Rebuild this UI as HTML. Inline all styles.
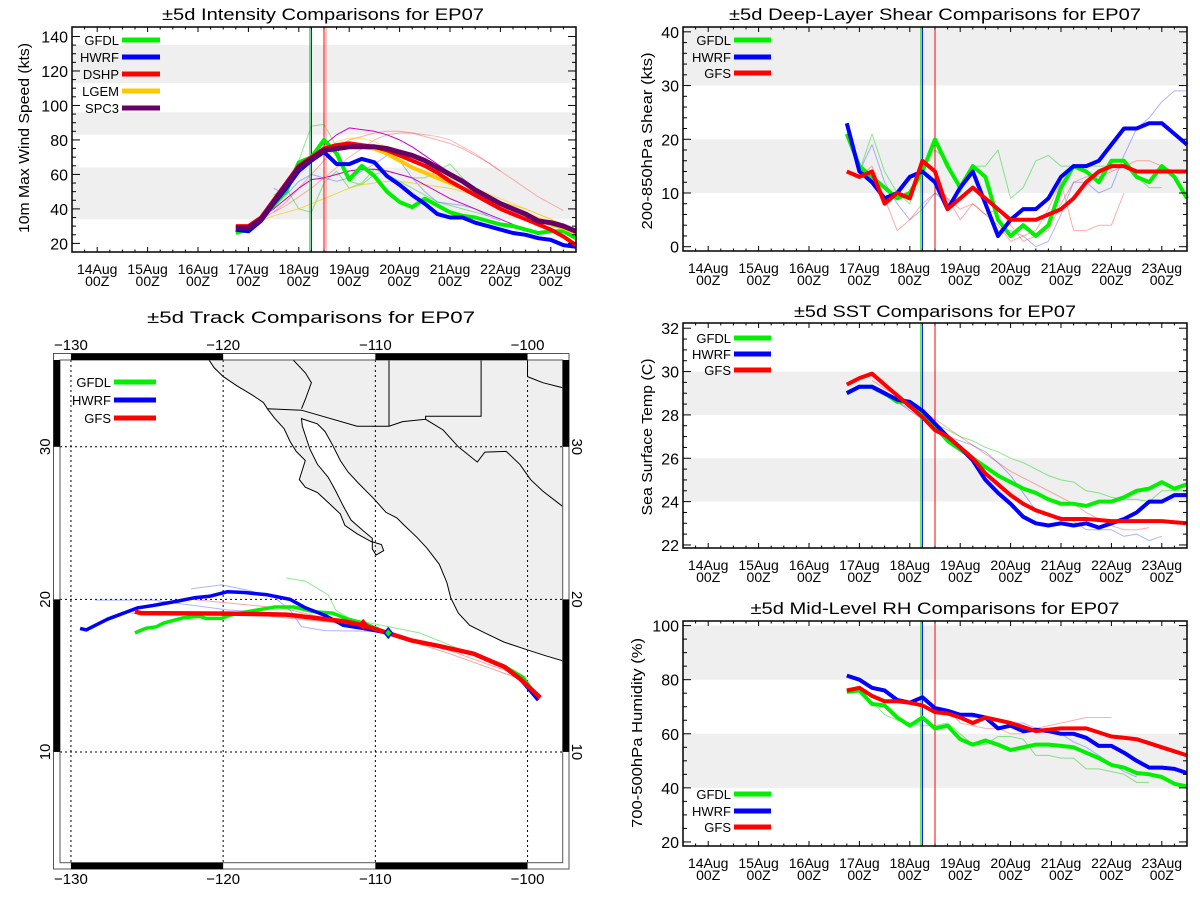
<!DOCTYPE html>
<html><head><meta charset="utf-8"><title>EP07 comparisons</title>
<style>
html,body{margin:0;padding:0;background:#fff;}
svg{display:block;font-family:"Liberation Sans",Arial,sans-serif;}
</style></head>
<body>
<svg id="chart" width="1200" height="900" viewBox="0 0 1200 900" xmlns="http://www.w3.org/2000/svg">
<rect x="0" y="0" width="1200" height="900" fill="#fff"/>
</svg>
<script>
// ---------- shared data ----------
const dayLabels = ['14Aug','15Aug','16Aug','17Aug','18Aug','19Aug','20Aug','21Aug','22Aug','23Aug'];
const hourLabel = '00Z';
const seriesStart = 2.75; // days after 14Aug 00Z, 6-hourly steps

// intensity (kts)
const intGFDL = [26,28,34,42,50,67,70,80,72,57,65,59,50,44,41,46,42,38,36,35,33,31,30,28,26,27,27,23];
const intHWRF = [28,27,33,43,52,62,68,73,66,66,69,67,59,54,48,43,37,35,35,32,30,28,26,25,23,22,19,18];
const intDSHP = [30,30,35,45,55,65,70,75,77,78,77,76,74,71,68,65,61,56,52,48,44,40,37,34,31,28,24,19];
const intLGEM = [29,29,34,44,54,64,70,75,76,77,76,75,72,68,64,61,58,55,52,49,46,43,40,37,34,31,29,26];
const intSPC3 = [29,29,34,44,54,64,69,74,75,76,76,76,75,73,71,68,64,60,56,51,47,43,40,37,33,32,30,27];
const intThinDSHP1 = [38,44,52,60,68,76,80,82,84,85,85,84,82,80,78,75,71,67,62];
const intThinDSHP2 = [34,38,42,47,52,58,64,70,75,80,83,84,84,83,82,80,76,72,67,62,57,52,47,43,39];
const intThinSPC3a = [77,83,87,86,85,83,80,76,71,66,61,56,51,47,43,40,37,34,31,28];
const intThinSPC3b = [35,40,46,52,57,58,60,62,63,63,62,60,58,54,50,46,43,40,37,34,31,28,25];
const intThinLGEMa = [33,36,38,40,43,46,49,52,54,55,56,56,55,54,53,52,50,48,46,44,42,40,37,34,31];
const intThinLGEMb = [74,79,81,81,79,76,72,68,64,61,58,55,52,49,46,43,40,37,34,31];
const intThinGFDLa = [45,55,68,88,89,76,56,54,60,62,60,58,58,62,66,58,50,45,42];
const intThinGFDLb = [48,52,40,38,55,62,52,55,63,60,56,52,48,44,42,40,38,36];
const intThinHWRFa = [52,48,56,60,58,56,58,62,66,71,68,58,50,44,43,42,40,36,33];
const intInitTimes = [4.22,4.25,4.5,4.54];

// shear (kts)
const shGFDL = [21,15,13,11,9,10,14,20,15,11,15,13,5,2,4,2,4,11,15,14,12,16,16,13,12,15,13,9];
const shHWRF = [23,14,12,9,10,13,14,12,7,11,14,8,2,5,7,7,9,13,15,15,16,19,22,22,23,23,21,19];
const shGFS  = [14,13,14,8,10,9,16,14,7,9,11,9,7,5,5,5,6,7,9,12,14,15,15,14,14,14,14,14];
const shThinG = [21,14,21,14,10,8,15,18,16,10,15,15,18,9,11,16,17,15,15,15,15,15,15,13,11,11];
const shThinB = [22,14,19,12,8,5,7,10,8,9,11,8,3,3,2,0,1,6,12,12,10,11,17,22,24,27,29,29];
const shThinR = [14,13,15,9,3,5,8,10,9,7,8,6,4,1,2,3,7,12,3,3,4,4,10];
const shThinR2 = [12,9,5,8,6,7,4,1,2,3,8,12,13,13,14,15,16,16,15,14];

// SST (C)
const sstGFDL = [29.0,29.3,29.3,29.0,28.6,28.6,28.1,27.5,26.8,26.4,26.0,25.6,25.2,24.9,24.6,24.4,24.1,23.9,23.9,23.8,24.0,24.0,24.2,24.5,24.6,24.9,24.6,24.8];
const sstHWRF = [29.0,29.3,29.3,29.0,28.7,28.6,28.2,27.6,27.0,26.5,25.9,25.0,24.4,23.9,23.3,23.0,22.9,23.0,22.9,23.0,22.8,23.0,23.2,23.5,24.0,24.0,24.3,24.3];
const sstGFS  = [29.4,29.7,29.9,29.4,28.9,28.4,27.9,27.3,27.0,26.5,26.0,25.3,24.8,24.3,23.9,23.6,23.4,23.2,23.2,23.2,23.15,23.1,23.1,23.1,23.1,23.1,23.05,23.0];
const sstThinG = [29.2,28.9,28.6,28.3,28.0,27.6,27.3,27.0,26.8,26.5,26.3,26.0,25.8,25.5,25.2,25.0,24.9,24.5,24.4,24.2,24.1,24.1,24.0,24.5,24.5,24.5];
const sstThinR = [29.6,29.2,28.9,28.5,28.2,27.8,27.4,27.0,26.6,26.2,25.8,25.4,25.1,24.8,24.5,24.2,23.9,23.5,23.2,22.9,22.7,22.7,22.8];
const sstThinB = [29.2,28.9,28.6,28.2,27.8,27.3,27.0,26.8,26.6,26.3,25.8,25.2,24.4,23.6,23.4,23.3,23.1,22.7,22.7,22.7,22.4,22.5,22.2,22.4];

// RH (%)
const rhGFDL = [75.5,76,71,70.5,66,63,66,62,63,58,56,57.5,56,54,55,56,56,55.5,55,53,51,48.5,47.5,45.5,45,44,41.5,40.5];
const rhHWRF = [81.5,80,77,76,72.5,71.5,73.5,69.5,68.5,67,67,66,62,63,61,61.5,61,60,60,58.5,55.5,55.5,53,50,47.5,47.5,47,45.5];
const rhGFS  = [76,77,74,72,72,71.5,70.5,68,67.5,66,64,66,65,64,62.5,61,61.5,62,62,62,60.5,59,58.5,58,56.5,55,53.5,52];
const rhThinG = [72,67,65,64,63,63,64,60,56,56,59,59,58,52,52,51,51,47,47,46,45,42,42];
const rhThinR = [73,72,70,69,69,64,63,62,62,60,60,62,63,64,65,66,66,66];
const rhThinB = [73,70,68,67,66,66,65,64,64,62,61,60,57,55,52,49,46,44];
const initTimes = [4.22,4.25,4.5];

// tracks (lon, lat)
const trkGFSLon  = [-125.8,-125.4,-119.6,-115.85,-112.1,-110.8,-109.2,-107.6,-105.8,-103.55,-101.5,-100.5,-99.16];
const trkGFSLat  = [19.2,19.1,19.07,19.0,18.57,18.3,17.8,17.3,16.94,16.44,15.56,14.8,13.56];
const trkHWRFLon = [-129.4,-129.0,-127.6,-125.6,-124.6,-122.9,-121.9,-120.9,-119.7,-118.6,-117.1,-115.6,-114.6,-113.3,-112.1,-110.8,-109.2,-107.6,-105.8,-103.55,-101.5,-100.5,-99.3];
const trkHWRFLat = [18.1,18.0,18.7,19.45,19.6,19.9,20.1,20.2,20.5,20.45,20.3,20.0,19.45,18.95,18.3,18.1,17.8,17.3,16.94,16.44,15.6,14.8,13.4];
const trkGFDLLon = [-125.8,-125.1,-124.4,-123.9,-122.6,-121.6,-121.1,-120.1,-119.6,-118.4,-116.6,-115.35,-114.1,-112.8,-111.8,-110.8,-109.2,-107.6,-105.8,-103.55,-101.5,-100.3,-99.3];
const trkGFDLLat = [17.8,18.1,18.2,18.45,18.8,18.9,18.75,18.75,18.95,19.2,19.5,19.5,19.2,19.1,18.7,18.45,17.8,17.3,16.94,16.44,15.6,14.9,13.5];
const trkThinR1Lon = [-122.1,-116,-110,-105,-100.8];
const trkThinR1Lat = [20.0,19.4,18.0,16.4,14.9];
const trkThinR2Lon = [-126,-118,-112,-105,-100.5];
const trkThinR2Lat = [19.1,19.0,18.4,16.6,15.0];
const trkThinB1Lon = [-128.4,-124.6,-119.6,-115.1,-109.6];
const trkThinB1Lat = [19.95,19.95,19.3,19.05,17.8];
const trkThinB2Lon = [-122.1,-120.1,-118.35,-116.6,-115.6,-114.85,-113.3,-109.6];
const trkThinB2Lat = [20.7,20.95,20.6,20.1,19.3,18.2,17.95,17.9];
const trkThinGLon = [-115.85,-114.6,-113.1,-112.6,-111.6,-109.6,-107.1,-104.6,-101.5];
const trkThinGLat = [21.4,21.2,20.3,19.3,18.7,18.3,17.8,16.8,15.6];
const lonTicks = [-130,-120,-110,-100];
const latTicks = [10,20,30];

// geography (lon, lat)
const coastLon = [-121.0,-120.6,-120.0,-119.1,-118.1,-117.35,-117.1,-116.6,-116.0,-115.6,-115.2,-114.6,-115.0,-114.6,-113.8,-113.1,-112.3,-112.0,-111.2,-110.3,-109.6,-109.45,-109.95,-110.2,-110.2,-110.8,-111.6,-112.1,-112.6,-113.1,-113.8,-114.3,-114.8,-114.85,-113.8,-113.3,-112.8,-112.3,-111.8,-111.1,-110.1,-109.3,-108.6,-108.1,-107.3,-106.6,-105.8,-105.3,-105.05,-104.55,-103.8,-102.8,-101.55,-100.05,-98.8,-97.6,-97.6];
const coastLat = [35.8,35.2,34.6,34.0,33.4,32.9,32.5,31.85,31.2,30.35,29.7,29.1,27.85,27.35,27.0,26.35,25.6,24.85,24.3,23.8,23.6,23.2,22.9,23.3,24.0,24.5,25.2,26.1,27.1,28.0,28.85,29.85,31.35,31.85,31.5,31.0,30.1,29.1,28.35,27.6,26.6,25.7,25.35,24.85,24.1,23.35,22.3,21.1,20.1,19.1,18.3,17.8,17.2,16.7,16.3,15.95,35.8];
const borderLon = [-117.1,-114.85,-111.2,-109.1,-108.2,-106.7,-105.55,-104.55,-103.3,-102.8,-101.4,-100.5,-99.8,-99.0,-97.7];
const borderLat = [32.5,32.4,31.35,31.35,31.65,31.8,31.1,30.0,29.0,29.65,29.7,28.85,27.85,27.1,26.1];
const azNmLon = [-109.1,-109.1]; const azNmLat = [35.8,31.35];
const nmTxLon = [-103.05,-103.05,-106.7,-106.7]; const nmTxLat = [35.8,32.0,32.0,31.8];
const caAzLon = [-115.5,-114.6,-114.2,-114.6,-114.85]; const caAzLat = [35.8,34.85,34.2,33.1,32.5];
const okTxLon = [-100.0,-100.0,-99.0,-97.6]; const okTxLat = [35.8,34.6,34.2,33.85];

// ---------- helpers ----------
const NS = 'http://www.w3.org/2000/svg';
const svg = document.getElementById('chart');
function el(tag, attrs, name, parent) {
  const e = document.createElementNS(NS, tag);
  for (const k in attrs) e.setAttribute(k, attrs[k]);
  
  
  (parent || svg).appendChild(e);
  return e;
}
function txt(x, y, s, attrs, name, parent) {
  const t = el('text', Object.assign({x: x, y: y, fill: '#000'}, attrs), name, parent);
  t.textContent = s;
  return t;
}
const X0 = -0.5, X1 = 9.5;

function panel(c) {
  const g = el('g', {}, c.name);
  const sx = d => c.L + (d - X0) / (X1 - X0) * (c.R - c.L);
  const sy = v => c.B - (v - c.ymin) / (c.ymax - c.ymin) * (c.B - c.T);
  c.bands.forEach(b => {
    el('rect', {x: c.L, y: sy(b[1]), width: c.R - c.L, height: sy(b[0]) - sy(b[1]), fill: '#efefef'}, 'shaded-band', g);
  });
  txt((c.L + c.R) / 2 + c.titleDx, c.titleY, c.title, {'font-size': 17, 'text-anchor': 'middle', textLength: c.titleLen, lengthAdjust: 'spacingAndGlyphs'}, 'panel-title', g);
  txt(0, 0, c.ylabel, {'font-size': 15, 'text-anchor': 'middle', transform: 'translate(' + c.ylabX + ',' + c.ylabY + ') rotate(-90)', textLength: c.ylabLen, lengthAdjust: 'spacingAndGlyphs'}, 'y-axis-title', g);
  return {g: g, sx: sx, sy: sy, c: c};
}
function axes(P) {
  const c = P.c, g = P.g;
  el('rect', {x: c.L, y: c.T, width: c.R - c.L, height: c.B - c.T, fill: 'none', stroke: '#000', 'stroke-width': 1.5}, 'plot-frame', g);
  for (let d = -0.5; d <= 9.5001; d += 0.25) {
    const major = Math.abs(d - Math.round(d)) < 1e-6;
    const len = major ? 5 : 2.5;
    const x = P.sx(d);
    el('line', {x1: x, x2: x, y1: c.B, y2: c.B - len, stroke: '#000', 'stroke-width': 1}, 'x-tick', g);
    el('line', {x1: x, x2: x, y1: c.T, y2: c.T + len, stroke: '#000', 'stroke-width': 1}, 'x-tick-top', g);
  }
  dayLabels.forEach((lab, i) => {
    txt(P.sx(i), c.B + 22, lab, {'font-size': 14, 'text-anchor': 'middle'}, 'x-tick-label', g);
    txt(P.sx(i), c.B + 34, hourLabel, {'font-size': 14, 'text-anchor': 'middle'}, 'x-tick-label-hour', g);
  });
  for (let v = c.y0; v <= c.y1 + 1e-6; v += c.minor) {
    const major = Math.abs((v - c.y0) / c.major - Math.round((v - c.y0) / c.major)) < 1e-6;
    const len = major ? 8 : 4;
    const y = P.sy(v);
    el('line', {x1: c.L, x2: c.L + len, y1: y, y2: y, stroke: '#000', 'stroke-width': 1}, 'y-tick', g);
    el('line', {x1: c.R, x2: c.R - len, y1: y, y2: y, stroke: '#000', 'stroke-width': 1}, 'y-tick-right', g);
    if (major) txt(c.L - 4, y + 6, String(v), {'font-size': 16, 'text-anchor': 'end'}, 'y-tick-label', g);
  }
}
function series(P, start, vals, color, w, name, op) {
  const pts = vals.map((v, i) => P.sx(start + i * 0.25).toFixed(1) + ',' + P.sy(v).toFixed(1)).join(' ');
  el('polyline', {points: pts, fill: 'none', stroke: color, 'stroke-width': w, 'stroke-opacity': op || 1, 'stroke-linejoin': 'round'}, name, P.g);
}
function vlines(P, times, colors) {
  times.forEach((t, i) => {
    const x = P.sx(t);
    el('line', {x1: x, x2: x, y1: P.c.T, y2: P.c.B, stroke: colors[i], 'stroke-width': 1}, 'init-time-line', P.g);
  });
}
function legend(g, x0, lineX0, lineX1, ys, names, colors, anchorRight) {
  names.forEach((n, i) => {
    txt(lineX0 - 3, ys[i] + 5, n, {'font-size': 13, 'text-anchor': 'end'}, 'legend-label-' + n.toLowerCase(), g);
    el('line', {x1: lineX0, x2: lineX1, y1: ys[i], y2: ys[i], stroke: colors[i], 'stroke-width': 5}, 'legend-swatch-' + n.toLowerCase(), g);
  });
}
const GREEN = '#00f000', BLUE = '#0000ff', RED = '#ff0000', ORANGE = '#ffc800', PURPLE = '#660066';
const LG = '#00d000', LB = '#3344ff', LR = '#ff3030';

// ---------- intensity ----------
const PI = panel({name: 'intensity-panel', L: 72, R: 576, T: 27, B: 252, ymin: 15, ymax: 145.5,
  bands: [[34, 64], [83, 96], [113, 135]], title: '\u00b15d Intensity Comparisons for EP07', titleY: 20, titleDx: -1, titleLen: 322,
  ylabel: '10m Max Wind Speed (kts)', ylabX: 29, ylabY: 138, ylabLen: 190});
series(PI, 3.5, intThinGFDLa, LG, 1, 'gfdl-thin-run', 0.45);
series(PI, 3.5, intThinGFDLb, LG, 1, 'gfdl-thin-run', 0.45);
series(PI, 3.5, intThinHWRFa, LB, 1, 'hwrf-thin-run', 0.4);
series(PI, 3.5, intThinDSHP1, LR, 1, 'dshp-thin-run', 0.4);
series(PI, 3.25, intThinDSHP2, LR, 1, 'dshp-thin-run', 0.35);
series(PI, 3.25, intThinLGEMa, ORANGE, 1, 'lgem-thin-run', 0.7);
series(PI, 4.5, intThinLGEMb, ORANGE, 1, 'lgem-thin-run', 0.6);
series(PI, 4.5, intThinSPC3a, '#cc00cc', 1, 'spc3-thin-run', 1);
series(PI, 3.25, intThinSPC3b, '#cc00cc', 1, 'spc3-thin-run', 1);
vlines(PI, intInitTimes, ['#00e000', '#0000ff', '#ff0000', '#ff9090']);
series(PI, seriesStart, intGFDL, GREEN, 4, 'gfdl-line');
series(PI, seriesStart, intHWRF, BLUE, 4, 'hwrf-line');
series(PI, seriesStart, intLGEM, ORANGE, 4, 'lgem-line');
series(PI, seriesStart, intDSHP, RED, 4, 'dshp-line');
series(PI, seriesStart, intSPC3, PURPLE, 5, 'spc3-line');
PI.c.y0 = 20; PI.c.y1 = 140; PI.c.major = 20; PI.c.minor = 5;
axes(PI);
legend(PI.g, 84, 122, 160, [40, 57, 74, 91, 108], ['GFDL', 'HWRF', 'DSHP', 'LGEM', 'SPC3'], [GREEN, BLUE, RED, ORANGE, PURPLE], [false, false, false, false, false]);

// ---------- shear ----------
const PS = panel({name: 'shear-panel', L: 683, R: 1187, T: 27, B: 251, ymin: -0.8, ymax: 40.9,
  bands: [[10, 20], [30, 40.9]], title: '\u00b15d Deep-Layer Shear Comparisons for EP07', titleY: 20, titleDx: 0, titleLen: 412,
  ylabel: '200-850hPa Shear (kts)', ylabX: 652, ylabY: 141, ylabLen: 177});
series(PS, seriesStart, shThinG, LG, 1, 'gfdl-thin-run', 0.45);
series(PS, seriesStart, shThinB, LB, 1, 'hwrf-thin-run', 0.4);
series(PS, seriesStart, shThinR, LR, 1, 'gfs-thin-run', 0.4);
series(PS, 4.5, shThinR2, LR, 1, 'gfs-thin-run', 0.4);
vlines(PS, initTimes, ['#00e000', '#0000ff', '#ff0000']);
series(PS, seriesStart, shGFDL, GREEN, 4, 'gfdl-line');
series(PS, seriesStart, shHWRF, BLUE, 4, 'hwrf-line');
series(PS, seriesStart, shGFS, RED, 4, 'gfs-line');
PS.c.y0 = 0; PS.c.y1 = 40; PS.c.major = 10; PS.c.minor = 2;
axes(PS);
legend(PS.g, 696, 734, 771, [40, 57, 73], ['GFDL', 'HWRF', 'GFS'], [GREEN, BLUE, RED], [false, false, true]);

// ---------- SST ----------
const PT = panel({name: 'sst-panel', L: 683, R: 1187, T: 323, B: 548, ymin: 21.86, ymax: 32.24,
  bands: [[24, 26], [28, 30]], title: '\u00b15d SST Comparisons for EP07', titleY: 317, titleDx: 0, titleLen: 282,
  ylabel: 'Sea Surface Temp (C)', ylabX: 652, ylabY: 437, ylabLen: 157});
series(PT, 3.25, sstThinG, LG, 1, 'gfdl-thin-run', 0.45);
series(PT, 3.25, sstThinR, LR, 1, 'gfs-thin-run', 0.4);
series(PT, 3.25, sstThinB, LB, 1, 'hwrf-thin-run', 0.4);
vlines(PT, initTimes, ['#00e000', '#0000ff', '#ff0000']);
series(PT, seriesStart, sstGFDL, GREEN, 4, 'gfdl-line');
series(PT, seriesStart, sstHWRF, BLUE, 4, 'hwrf-line');
series(PT, seriesStart, sstGFS, RED, 4, 'gfs-line');
PT.c.y0 = 22; PT.c.y1 = 32; PT.c.major = 2; PT.c.minor = 0.5;
axes(PT);
legend(PT.g, 696, 734, 771, [338, 354, 370], ['GFDL', 'HWRF', 'GFS'], [GREEN, BLUE, RED], [false, false, true]);

// ---------- RH ----------
const PR = panel({name: 'rh-panel', L: 683, R: 1187, T: 621, B: 846, ymin: 18.5, ymax: 101.7,
  bands: [[40, 60], [80, 100]], title: '\u00b15d Mid-Level RH Comparisons for EP07', titleY: 614, titleDx: 0, titleLen: 369,
  ylabel: '700-500hPa Humidity (%)', ylabX: 642, ylabY: 733, ylabLen: 190});
series(PR, 3.25, rhThinG, LG, 1, 'gfdl-thin-run', 0.45);
series(PR, 3.75, rhThinR, LR, 1, 'gfs-thin-run', 0.4);
series(PR, 4.25, rhThinB, LB, 1, 'hwrf-thin-run', 0.4);
vlines(PR, initTimes, ['#00e000', '#0000ff', '#ff0000']);
series(PR, seriesStart, rhGFDL, GREEN, 4, 'gfdl-line');
series(PR, seriesStart, rhHWRF, BLUE, 4, 'hwrf-line');
series(PR, seriesStart, rhGFS, RED, 4, 'gfs-line');
PR.c.y0 = 20; PR.c.y1 = 100; PR.c.major = 20; PR.c.minor = 5;
axes(PR);
legend(PR.g, 696, 734, 771, [794, 811, 827], ['GFDL', 'HWRF', 'GFS'], [GREEN, BLUE, RED], [false, false, true]);

// ---------- track map ----------
const M = {L: 60, R: 562.7, T: 360, B: 862.7, lon0: -130.72, lon1: -97.69, lat0: 2.74, lat1: 35.69};
const mx = lon => M.L + (lon - M.lon0) / (M.lon1 - M.lon0) * (M.R - M.L);
const my = lat => M.B - (lat - M.lat0) / (M.lat1 - M.lat0) * (M.B - M.T);
const gm = el('g', {}, 'track-map');
el('clipPath', {id: 'mapclip'}, 'map-clip', gm);
el('rect', {x: M.L, y: M.T, width: M.R - M.L, height: M.B - M.T}, 'map-clip-rect', document.getElementById('mapclip'));
const gInner = el('g', {'clip-path': 'url(#mapclip)'}, 'map-content', gm);
function pathLL(lons, lats, attrs, name, parent, close) {
  let d = lons.map((lo, i) => (i ? 'L' : 'M') + mx(lo).toFixed(1) + ',' + my(lats[i]).toFixed(1)).join(' ');
  if (close) d += ' Z';
  return el('path', Object.assign({d: d, fill: 'none'}, attrs), name, parent);
}
pathLL(coastLon, coastLat, {fill: '#efefef', stroke: '#000', 'stroke-width': 1}, 'land-mexico', gInner, true);
pathLL(borderLon, borderLat, {stroke: '#000', 'stroke-width': 1}, 'us-mexico-border', gInner);
pathLL(azNmLon, azNmLat, {stroke: '#000', 'stroke-width': 1}, 'state-border', gInner);
pathLL(nmTxLon, nmTxLat, {stroke: '#000', 'stroke-width': 1}, 'state-border', gInner);
pathLL(caAzLon, caAzLat, {stroke: '#000', 'stroke-width': 1}, 'state-border', gInner);
pathLL(okTxLon, okTxLat, {stroke: '#000', 'stroke-width': 1}, 'state-border', gInner);
lonTicks.forEach(lo => {
  el('line', {x1: mx(lo), x2: mx(lo), y1: M.T, y2: M.B, stroke: '#000', 'stroke-width': 1, 'stroke-dasharray': '2,3'}, 'lon-gridline', gInner);
});
latTicks.forEach(la => {
  el('line', {x1: M.L, x2: M.R, y1: my(la), y2: my(la), stroke: '#000', 'stroke-width': 1, 'stroke-dasharray': '2,3'}, 'lat-gridline', gInner);
});
pathLL(trkThinR1Lon, trkThinR1Lat, {stroke: LR, 'stroke-width': 1, 'stroke-opacity': 0.45}, 'gfs-thin-track', gInner);
pathLL(trkThinR2Lon, trkThinR2Lat, {stroke: LR, 'stroke-width': 1, 'stroke-opacity': 0.45}, 'gfs-thin-track', gInner);
pathLL(trkThinB1Lon, trkThinB1Lat, {stroke: LB, 'stroke-width': 1, 'stroke-opacity': 0.4}, 'hwrf-thin-track', gInner);
pathLL(trkThinB2Lon, trkThinB2Lat, {stroke: LB, 'stroke-width': 1, 'stroke-opacity': 0.4}, 'hwrf-thin-track', gInner);
pathLL(trkThinGLon, trkThinGLat, {stroke: LG, 'stroke-width': 1, 'stroke-opacity': 0.45}, 'gfdl-thin-track', gInner);
pathLL(trkGFDLLon, trkGFDLLat, {stroke: GREEN, 'stroke-width': 3.5, 'stroke-linejoin': 'round'}, 'gfdl-track', gInner);
pathLL(trkHWRFLon, trkHWRFLat, {stroke: BLUE, 'stroke-width': 3.5, 'stroke-linejoin': 'round'}, 'hwrf-track', gInner);
pathLL(trkGFSLon, trkGFSLat, {stroke: RED, 'stroke-width': 4.5, 'stroke-linejoin': 'round'}, 'gfs-track', gInner);
const dm1x = mx(-110.8), dm1y = my(18.35);
el('path', {d: 'M' + dm1x + ',' + (dm1y - 5) + ' l4,5 l-4,5 l-4,-5 z', fill: RED, stroke: RED}, 'gfs-position-marker', gInner);
const dm2x = mx(-109.15), dm2y = my(17.8);
el('path', {d: 'M' + dm2x + ',' + (dm2y - 5) + ' l4,5 l-4,5 l-4,-5 z', fill: GREEN, stroke: BLUE, 'stroke-width': 1.5}, 'current-position-marker', gInner);
el('rect', {x: 53.5, y: 353.5, width: 515.5, height: 515.5, fill: 'none', stroke: '#555', 'stroke-width': 1}, 'map-outer-frame', gm);
el('rect', {x: M.L, y: M.T, width: M.R - M.L, height: M.B - M.T, fill: 'none', stroke: '#555', 'stroke-width': 1}, 'map-inner-frame', gm);
[[-130, -120], [-110, -100]].forEach(s => {
  el('rect', {x: mx(s[0]), y: 353.5, width: mx(s[1]) - mx(s[0]), height: 6.5, fill: '#000'}, 'map-border-segment-top', gm);
  el('rect', {x: mx(s[0]), y: M.B, width: mx(s[1]) - mx(s[0]), height: 6.5, fill: '#000'}, 'map-border-segment-bottom', gm);
});
[[30, M.lat1], [10, 20]].forEach(s => {
  el('rect', {x: 53.5, y: my(s[1]), width: 6.5, height: my(s[0]) - my(s[1]), fill: '#000'}, 'map-border-segment-left', gm);
  el('rect', {x: M.R, y: my(s[1]), width: 6.5, height: my(s[0]) - my(s[1]), fill: '#000'}, 'map-border-segment-right', gm);
});
lonTicks.forEach(lo => {
  txt(mx(lo), 350, '\u2212' + Math.abs(lo), {'font-size': 15, 'text-anchor': 'middle'}, 'lon-label-top', gm);
  txt(mx(lo), 884, '\u2212' + Math.abs(lo), {'font-size': 15, 'text-anchor': 'middle'}, 'lon-label-bottom', gm);
});
latTicks.forEach(la => {
  txt(0, 0, String(la), {'font-size': 15, 'text-anchor': 'middle', transform: 'translate(50,' + my(la) + ') rotate(-90)'}, 'lat-label-left', gm);
  txt(0, 0, String(la), {'font-size': 15, 'text-anchor': 'middle', transform: 'translate(572,' + my(la) + ') rotate(90)'}, 'lat-label-right', gm);
});
txt(311, 323, '\u00b15d Track Comparisons for EP07', {'font-size': 17, 'text-anchor': 'middle', textLength: 328, lengthAdjust: 'spacingAndGlyphs'}, 'track-panel-title', gm);
legend(gm, 72, 114, 156, [382, 400, 418], ['GFDL', 'HWRF', 'GFS'], [GREEN, BLUE, RED], [false, false, true]);
</script>
</body></html>
